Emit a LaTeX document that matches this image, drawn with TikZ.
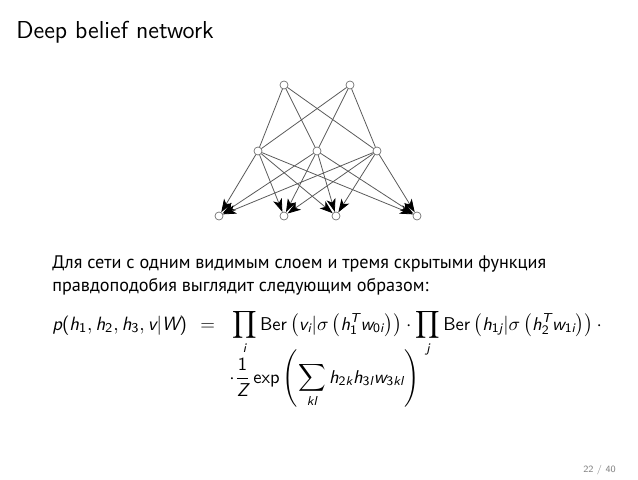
\documentclass[tikz,border=0pt]{standalone}
\usepackage[no-math]{fontspec}
\usepackage{amsmath}
\newfontfamily\cyrfont{PT Sans}
\usetikzlibrary{arrows.meta}
% sans serif letters and operators in math
\DeclareSymbolFont{operators}{TU}{lmss}{m}{n}
\DeclareSymbolFont{sfletters}{TU}{lmss}{m}{sl}
\newcount\lettc
\lettc=`a
\loop \Umathcode\lettc="7 \symsfletters \lettc \advance\lettc 1 \ifnum\lettc<`\{ \repeat
\lettc=`A
\loop \Umathcode\lettc="7 \symsfletters \lettc \advance\lettc 1 \ifnum\lettc<`\[ \repeat

\begin{document}
\begin{tikzpicture}[x=0.5714pt, y=-0.5714pt, line join=round, line cap=round,
  unit/.style={circle, draw=black!55, fill=white, line width=0.4pt, inner sep=0pt, minimum size=4.6pt},
  ln/.style={draw=black!65, line width=0.45pt},
  arr/.style={ln, -{Stealth[length=7.5pt, width=5.2pt, inset=2pt, black]}},
  txt/.style={anchor=base west, inner sep=0pt, font=\sffamily\fontsize{11}{13.6}\selectfont},
  frm/.style={txt, font=\sffamily\fontsize{10.6}{13}\selectfont}
]
  \useasboundingbox (0,0) rectangle (638,479);

  % top hidden layer
  \node[unit] (t1) at (284,85) {};
  \node[unit] (t2) at (350,85) {};
  % middle hidden layer
  \node[unit] (m1) at (258,151) {};
  \node[unit] (m2) at (317,151) {};
  \node[unit] (m3) at (377,151) {};
  % visible layer
  \node[unit] (b1) at (219,216) {};
  \node[unit] (b2) at (284,216) {};
  \node[unit] (b3) at (336,216) {};
  \node[unit] (b4) at (417,216) {};

  \foreach \t in {t1,t2}
    \foreach \m in {m1,m2,m3}
      \draw[ln] (\t)--(\m);
  \foreach \m in {m1,m2,m3}
    \foreach \b in {b1,b2,b3,b4}
      \draw[arr] (\m)--(\b);

  \node[txt, font=\sffamily\fontsize{14}{17}\selectfont] (title) at (16,38) {Deep belief network};

  \node[txt, font=\cyrfont\fontsize{10.4}{13.6}\selectfont] (par1) at (52,268)
    {Для сети с одним видимым слоем и тремя скрытыми функция};
  \node[txt, font=\cyrfont\fontsize{10.4}{13.6}\selectfont] (par2) at (52,291)
    {правдоподобия выглядит следующим образом:};

  \node[txt] (lhs) at (52,330) {$p(h_1, h_2, h_3, v|W)$};
  \node[txt] (eq) at (200,330) {$=$};
  \node[frm] (rhs1) at (232,330)
    {$\displaystyle\prod_i \operatorname{Ber}\left(v_i|\sigma\left(h_1^T w_{0i}\right)\right)\cdot\prod_j \operatorname{Ber}\left(h_{1j}|\sigma\left(h_2^T w_{1i}\right)\right)\cdot$};
  \node[frm] (rhs2) at (229,383)
    {$\displaystyle\cdot\frac{1}{Z}\exp\left(\sum_{kl} h_{2k}h_{3l}w_{3kl}\right)$};

  \node[txt, font=\sffamily\fontsize{5.5}{7}\selectfont, text=black!50] (page) at (583,472) {22 / 40};
\end{tikzpicture}
\end{document}
